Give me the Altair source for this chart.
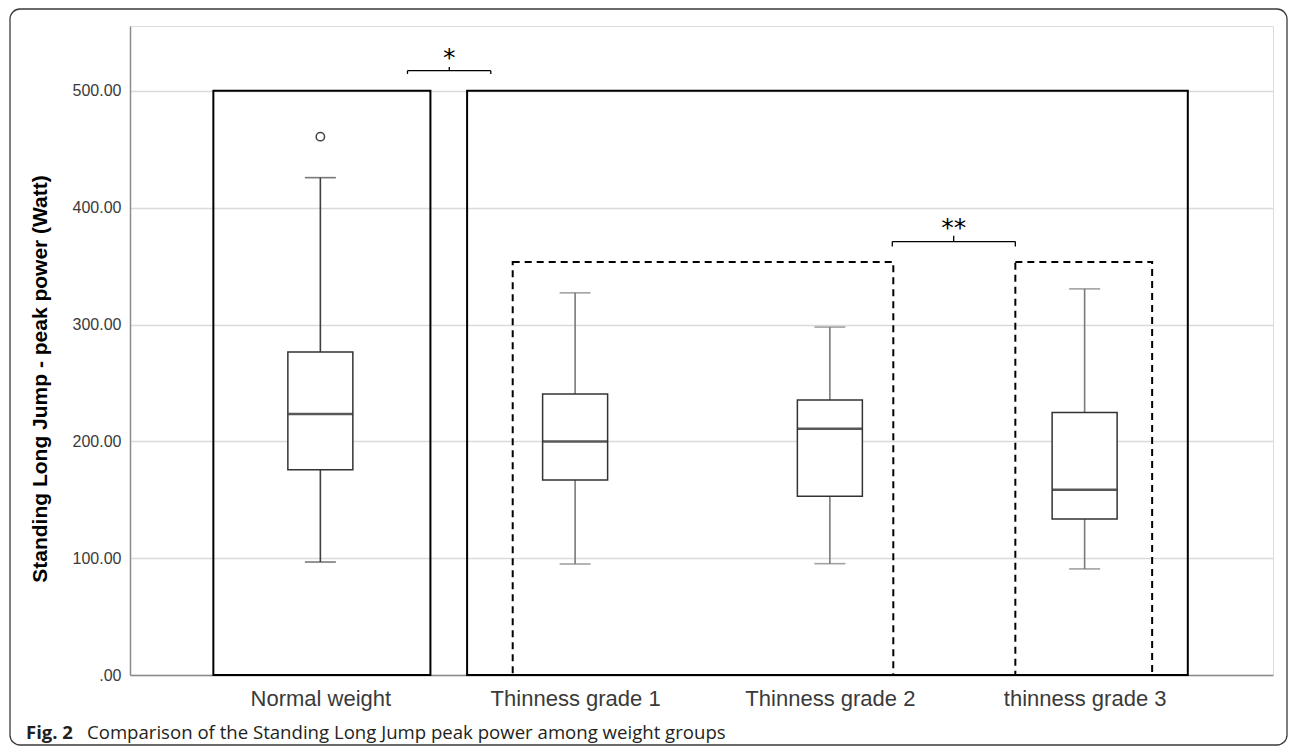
import json
import altair as alt
import pandas as pd

# ---------------- data ----------------
groups = ["Normal weight", "Thinness grade 1", "Thinness grade 2", "thinness grade 3"]
group_index = [0, 1, 2, 3]
lower_whisker = [96.7, 95.0, 95.3, 90.8]
q1 = [175.7, 166.9, 152.9, 133.5]
median = [223.4, 199.9, 210.8, 158.6]
q3 = [276.4, 240.5, 235.3, 224.7]
upper_whisker = [425.7, 327.1, 297.8, 330.5]

outlier_index = [0]
outlier_value = [460.8]

# grouping frames (x in category-index units, y in Watt)
solid_x_start = [-0.420, 0.576]
solid_x_end = [0.432, 3.405]
solid_top = [500.0, 500.0]
dashed_x_start = [0.755, 2.728]
dashed_x_end = [2.249, 3.265]
dashed_top = [353.6, 353.6]

# significance brackets
bracket_left = [0.342, 2.245]
bracket_right = [0.669, 2.728]
bracket_center = [0.506, 2.486]
bracket_level = [517.3, 371.0]
bracket_end = [514.5, 366.7]
bracket_tip = [520.4, 375.9]
bracket_label = ["*", "**"]
bracket_label_level = [533.3, 388.1]

y_ticks = [0, 100, 200, 300, 400, 500]
y_title = "Standing Long Jump - peak power (Watt)"
caption_bold = "Fig. 2"
caption_text = "Comparison of the Standing Long Jump peak power among weight groups"

# ---------------- tables ----------------
boxes = pd.DataFrame({
    "group": groups, "idx": group_index, "lw": lower_whisker, "q1": q1,
    "med": median, "q3": q3, "uw": upper_whisker,
})
outliers = pd.DataFrame({"idx": outlier_index, "value": outlier_value})
solid = pd.DataFrame({"x1": solid_x_start, "x2": solid_x_end, "top": solid_top, "bottom": [0, 0]})
dashed = pd.DataFrame({"x1": dashed_x_start, "x2": dashed_x_end, "top": dashed_top, "bottom": [0, 0]})
brackets = pd.DataFrame({
    "left": bracket_left, "right": bracket_right, "center": bracket_center,
    "level": bracket_level, "end": bracket_end, "tip": bracket_tip,
    "label": bracket_label, "label_y": bracket_label_level,
})
one = pd.DataFrame({"a": [0]})

# ---------------- scales / axes ----------------
FONT = "Liberation Sans"
xscale = alt.Scale(domain=[-0.7276, 3.7198], nice=False, zero=False)
yscale = alt.Scale(domain=[0, 555.5], nice=False, zero=True)

label_js = json.dumps(groups)
xaxis = alt.Axis(
    values=group_index, labelExpr=f"{label_js}[datum.value]", title="",
    ticks=False, grid=False, domainColor="#8c8c8c", domainWidth=1.5,
    labelFont=FONT, labelFontSize=22, labelColor="#3a3a3a", labelPadding=13,
    labelAngle=0,
)
yaxis = alt.Axis(
    values=y_ticks, labelExpr="datum.value == 0 ? '.00' : format(datum.value, '.2f')",
    title=y_title, ticks=False, grid=True, gridColor="#dadada", gridWidth=1.5,
    domainColor="#8c8c8c", domainWidth=1.5, labelFont=FONT, labelFontSize=16,
    labelColor="#3a3a3a", labelPadding=9, titleFont=FONT, titleFontSize=21,
    titleFontWeight="bold", titleColor="#000000", titleAngle=-90, titleX=-84,
    titleY=352.5, titleBaseline="alphabetic", titleAlign="center",
)


def X(field):
    return alt.X(field, type="quantitative", scale=xscale, axis=xaxis)


def Y(field):
    return alt.Y(field, type="quantitative", scale=yscale, axis=yaxis)


# ---------------- layers ----------------
solid_frames = alt.Chart(solid).mark_rect(
    fillOpacity=0, stroke="#000000", strokeWidth=2
).encode(x=X("x1"), x2="x2", y=Y("bottom"), y2="top")

dashed_frames = alt.Chart(dashed).mark_rect(
    fillOpacity=0, stroke="#000000", strokeWidth=2, strokeDash=[7, 5]
).encode(x=X("x1"), x2="x2", y=Y("bottom"), y2="top")

whisker_color = alt.condition(
    "datum.group == 'Normal weight'", alt.value("#3f3f3f"), alt.value("#7a7a7a")
)
whiskers = alt.Chart(boxes).mark_rule(strokeWidth=1.6).encode(
    x=X("idx"), y=Y("lw"), y2="uw", color=whisker_color
)
caps_low = alt.Chart(boxes).mark_tick(orient="horizontal", size=31, thickness=1.6).encode(
    x=X("idx"), y=Y("lw"), color=whisker_color
)
caps_high = alt.Chart(boxes).mark_tick(orient="horizontal", size=31, thickness=1.6).encode(
    x=X("idx"), y=Y("uw"), color=whisker_color
)
box = alt.Chart(boxes).mark_bar(
    size=65, fill="#ffffff", stroke="#333333", strokeWidth=1.5
).encode(x=X("idx"), y=Y("q1"), y2="q3")
med = alt.Chart(boxes).mark_tick(
    orient="horizontal", size=64, thickness=2.6, color="#111111"
).encode(x=X("idx"), y=Y("med"))
out = alt.Chart(outliers).mark_point(
    shape="circle", size=70, filled=False, stroke="#444444", strokeWidth=1.5, opacity=1
).encode(x=X("idx"), y=Y("value"))

br_h = alt.Chart(brackets).mark_rule(color="#000000", strokeWidth=1.3).encode(
    x=X("left"), x2="right", y=Y("level")
)
br_l = alt.Chart(brackets).mark_rule(color="#000000", strokeWidth=1.3).encode(
    x=X("left"), y=Y("end"), y2="level"
)
br_r = alt.Chart(brackets).mark_rule(color="#000000", strokeWidth=1.3).encode(
    x=X("right"), y=Y("end"), y2="level"
)
br_t = alt.Chart(brackets).mark_rule(color="#000000", strokeWidth=1.3).encode(
    x=X("center"), y=Y("level"), y2="tip"
)
br_txt = alt.Chart(brackets).mark_text(
    font="DejaVu Sans", fontSize=25, color="#000000", baseline="alphabetic",
    align="center", dy=14
).encode(x=X("center"), y=Y("label_y"), text="label:N")

# outer figure border and caption (decoration, in pixels)
border = alt.Chart(one).mark_rect(
    fillOpacity=0, stroke="#3a3a3a", strokeWidth=1.3, cornerRadius=10
).encode(x=alt.value(-120), x2=alt.value(1157), y=alt.value(-17), y2=alt.value(719))
cap1 = alt.Chart(one).mark_text(
    font="Open Sans", fontSize=18.5, fontWeight="bold", align="left", baseline="alphabetic",
    color="#231f20",
).encode(x=alt.value(-104), y=alt.value(713), text=alt.value(caption_bold))
cap2 = alt.Chart(one).mark_text(
    font="Open Sans", fontSize=18.6, align="left", baseline="alphabetic", color="#231f20",
).encode(x=alt.value(-43), y=alt.value(713), text=alt.value(caption_text))

chart = alt.layer(
    solid_frames, dashed_frames, whiskers, caps_low, caps_high, box, med, out,
    br_h, br_l, br_r, br_t, br_txt, border, cap1, cap2,
).properties(
    width=1143, height=649,
    autosize=alt.AutoSizeParams(type="none"),
    padding={"left": 122, "top": 18, "right": 15, "bottom": 71},
).configure_view(strokeWidth=0).configure(background="#ffffff")

chart.save("out.html", embed_options={"renderer": "svg", "actions": False})
